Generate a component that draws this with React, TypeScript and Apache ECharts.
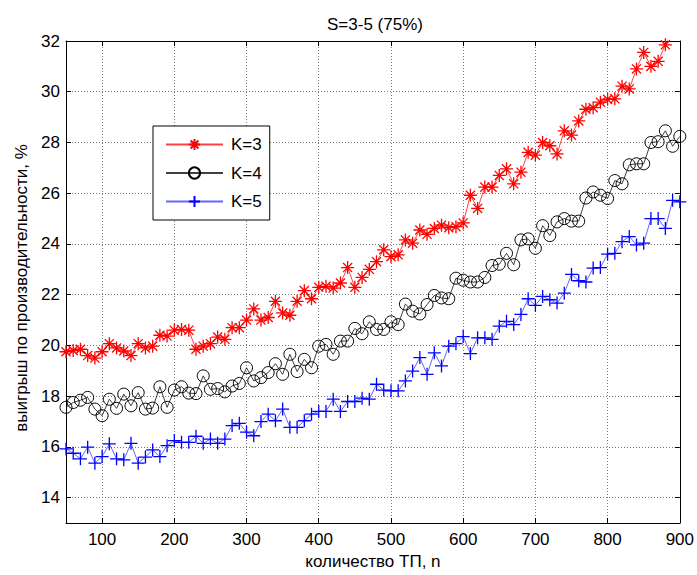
import React, { useEffect, useRef } from "react";
import * as echarts from "echarts";

const nValues = [
  50, 60, 70, 80, 90, 100, 110, 120, 130, 140, 150, 160, 170, 180, 190, 200,
  210, 220, 230, 240, 250, 260, 270, 280, 290, 300, 310, 320, 330, 340, 350,
  360, 370, 380, 390, 400, 410, 420, 430, 440, 450, 460, 470, 480, 490, 500,
  510, 520, 530, 540, 550, 560, 570, 580, 590, 600, 610, 620, 630, 640, 650,
  660, 670, 680, 690, 700, 710, 720, 730, 740, 750, 760, 770, 780, 790, 800,
  810, 820, 830, 840, 850, 860, 870, 880, 890, 900,
];

const k3 = [
  19.75, 19.8, 19.85, 19.6, 19.5, 19.75, 20.07, 19.9, 19.78, 19.6, 20.07, 19.9,
  19.97, 20.4, 20.37, 20.6, 20.63, 20.6, 19.85, 19.97, 20.07, 20.33, 20.24,
  20.7, 20.7, 21.0, 21.44, 21.0, 21.1, 21.74, 21.28, 21.19, 21.74, 22.16,
  21.84, 22.29, 22.33, 22.26, 22.46, 23.07, 22.29, 22.68, 23.0, 23.3, 23.77,
  23.5, 23.57, 24.16, 24.03, 24.55, 24.38, 24.61, 24.74, 24.64, 24.68, 24.83,
  25.92, 25.4, 26.24, 26.24, 26.7, 26.96, 26.37, 26.83, 27.61, 27.5, 28.0,
  27.87, 27.55, 28.46, 28.29, 28.85, 29.31, 29.37, 29.59, 29.7, 29.72, 30.22,
  30.11, 30.9, 31.55, 31.0, 31.2, 31.85, 32.4, 33.0,
];

const k4 = [
  17.56, 17.75, 17.84, 17.95, 17.49, 17.23, 17.88, 17.52, 18.08, 17.62, 18.14,
  17.49, 17.53, 18.37, 17.56, 18.24, 18.37, 18.12, 18.1, 18.8, 18.27, 18.3,
  18.17, 18.4, 18.5, 19.12, 18.6, 18.73, 18.93, 19.28, 18.86, 19.65, 18.97,
  19.45, 19.12, 19.97, 20.04, 19.65, 20.17, 20.17, 20.67, 20.46, 20.93, 20.63,
  20.63, 20.93, 20.82, 21.63, 21.35, 21.24, 21.61, 21.97, 21.87, 21.84, 22.65,
  22.57, 22.5, 22.5, 22.68, 23.15, 23.2, 23.63, 23.18, 24.16, 24.2, 23.83,
  24.72, 24.33, 24.87, 25.0, 24.9, 24.9, 25.81, 26.05, 25.92, 25.79, 26.5,
  26.37, 27.12, 27.16, 27.16, 28.0, 28.03, 28.46, 27.85, 28.24,
];

const k5 = [
  15.92, 15.75, 15.53, 15.99, 15.36, 15.62, 16.12, 15.53, 15.49, 16.14, 15.36,
  15.6, 15.88, 15.62, 16.05, 16.25, 16.18, 16.18, 16.42, 16.14, 16.31, 16.14,
  16.31, 16.84, 16.93, 16.58, 16.44, 17.0, 17.29, 17.03, 17.49, 16.77, 16.77,
  17.03, 17.29, 17.4, 17.4, 17.88, 17.4, 17.79, 17.79, 17.92, 17.88, 18.47,
  18.24, 18.21, 18.21, 18.6, 18.99, 19.52, 18.86, 19.71, 19.19, 19.97, 20.07,
  20.35, 19.68, 20.3, 20.3, 20.24, 20.76, 20.95, 20.82, 21.22, 21.84, 21.58,
  21.93, 21.8, 21.67, 22.06, 22.8, 22.55, 22.5, 23.05, 23.07, 23.6, 23.63,
  24.09, 24.29, 23.96, 24.03, 25.0, 25.0, 24.61, 25.72, 25.66,
];

const xTicks = [100, 200, 300, 400, 500, 600, 700, 800, 900];
const yTicks = [14, 16, 18, 20, 22, 24, 26, 28, 30, 32];

const seriesNames = ["K=3", "K=4", "K=5"];
const titleText = "S=3-5 (75%)";
const xName = "количество ТП, n";
const yName = "выигрыш по производительности, %";

const FONT = "'Liberation Sans', Arial, sans-serif";

const STAR = "path://M0,-10L0,10M-10,0L10,0M-7,-7L7,7M-7,7L7,-7";
const PLUS = "path://M0,-10L0,10M-10,0L10,0";

function pairs(vals: number[]) {
  return vals.map((v, i) => [nValues[i], v]);
}

export default function App() {
  const ref = useRef<HTMLDivElement>(null);

  useEffect(() => {
    if (!ref.current) return;
    const chart = echarts.init(ref.current, undefined, { renderer: "svg" });

    const gridLine = {
      show: true,
      lineStyle: { color: "#7a7a7a", type: [1, 2] as any, width: 1 },
    };
    const axisLine = { show: true, lineStyle: { color: "#000", width: 1 } };
    const tick = (vals: number[]) => ({
      show: true,
      inside: true,
      length: 5,
      customValues: vals,
      lineStyle: { color: "#000", width: 1 },
    });

    chart.setOption({
      animation: false,
      backgroundColor: "#fff",
      title: {
        text: titleText,
        left: 322,
        top: 11,
        textStyle: {
          fontSize: 17,
          fontWeight: "normal",
          color: "#000",
          fontFamily: FONT,
        },
      },
      legend: {
        orient: "vertical",
        left: 153,
        top: 126,
        itemWidth: 57,
        itemHeight: 14,
        itemGap: 11.5,
        padding: [10, 8, 10, 12],
        borderColor: "#000",
        borderWidth: 1,
        borderRadius: 0,
        backgroundColor: "#fff",
        textStyle: {
          fontSize: 17,
          color: "#000",
          fontFamily: FONT,
          padding: [0, 0, 0, 3],
        },
        data: seriesNames,
      },
      grid: { left: 66, right: 17, top: 41, bottom: 48 },
      xAxis: [
        {
          type: "value",
          min: 50,
          max: 900,
          position: "bottom",
          name: xName,
          nameLocation: "middle",
          nameGap: 30,
          nameTextStyle: { fontSize: 17, color: "#000", fontFamily: FONT },
          axisLine,
          axisTick: tick(xTicks),
          axisLabel: {
            customValues: xTicks,
            fontSize: 17,
            color: "#000",
            fontFamily: FONT,
            margin: 8,
          },
          splitLine: gridLine,
        },
        {
          type: "value",
          min: 50,
          max: 900,
          position: "top",
          axisLine,
          axisTick: tick(xTicks),
          axisLabel: { show: false },
          splitLine: { show: false },
        },
      ],
      yAxis: [
        {
          type: "value",
          min: 13,
          max: 32,
          position: "left",
          name: yName,
          nameLocation: "middle",
          nameGap: 34,
          nameTextStyle: {
            fontSize: 17,
            color: "#000",
            fontFamily: FONT,
            padding: [0, 12, 0, 0],
          },
          axisLine,
          axisTick: tick(yTicks),
          axisLabel: {
            customValues: yTicks,
            fontSize: 17,
            color: "#000",
            fontFamily: FONT,
            margin: 6,
          },
          splitLine: gridLine,
        },
        {
          type: "value",
          min: 13,
          max: 32,
          position: "right",
          axisLine,
          axisTick: tick(yTicks),
          axisLabel: { show: false },
          splitLine: { show: false },
        },
      ],
      series: [
        {
          name: seriesNames[0],
          type: "line",
          data: pairs(k3),
          symbol: STAR,
          symbolSize: 13,
          clip: true,
          lineStyle: { color: "#ff0000", width: 1, opacity: 0.75 },
          itemStyle: {
            color: "rgba(0,0,0,0)",
            borderColor: "#ff0000",
            borderWidth: 1.3,
          },
        },
        {
          name: seriesNames[1],
          type: "line",
          data: pairs(k4),
          symbol: "circle",
          symbolSize: 12,
          clip: true,
          lineStyle: { color: "#000000", width: 1, opacity: 0.75 },
          itemStyle: {
            color: "rgba(0,0,0,0)",
            borderColor: "#000000",
            borderWidth: 1,
          },
        },
        {
          name: seriesNames[2],
          type: "line",
          data: pairs(k5),
          symbol: PLUS,
          symbolSize: 13,
          clip: true,
          lineStyle: { color: "#0000ff", width: 1, opacity: 0.6 },
          itemStyle: {
            color: "rgba(0,0,0,0)",
            borderColor: "#0000ff",
            borderWidth: 1.3,
          },
        },
      ],
    });

    return () => chart.dispose();
  }, []);

  return (
    <div
      ref={ref}
      style={{ width: 697, height: 575, position: "absolute", left: 0, top: 0 }}
    />
  );
}
